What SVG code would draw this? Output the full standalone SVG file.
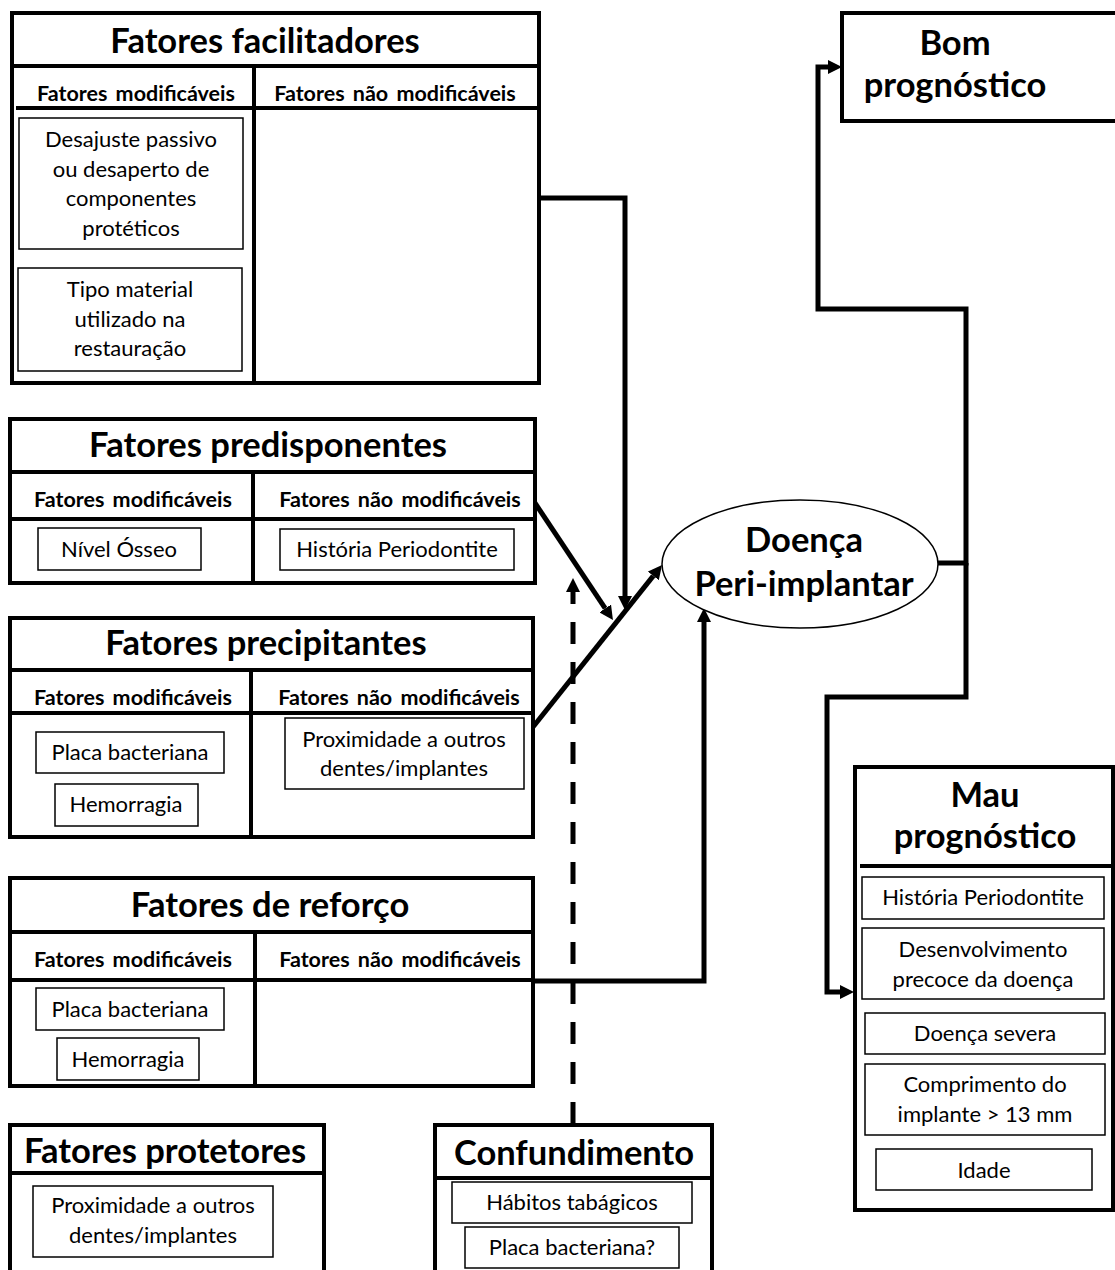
<svg xmlns="http://www.w3.org/2000/svg" width="1115" height="1270" viewBox="0 0 1115 1270">
<style>
.outer{fill:#fff;stroke:#000;stroke-width:4}
.div{stroke:#000;stroke-width:4;fill:none}
.inner{fill:#fff;stroke:#000;stroke-width:1.5}
.t{font-family:Lato,"Liberation Sans",sans-serif;font-weight:bold;font-size:34.5px;text-anchor:middle;fill:#000}
.s{font-family:Lato,"Liberation Sans",sans-serif;font-weight:bold;font-size:21.5px;word-spacing:3px;text-anchor:middle;fill:#000}
.n{font-family:Lato,"Liberation Sans",sans-serif;font-size:22px;text-anchor:middle;fill:#000}
.c{fill:none;stroke:#000;stroke-width:5}
.d{fill:none;stroke:#000;stroke-width:5;stroke-dasharray:22 18}
</style>
<defs>
<marker id="ah" viewBox="0 0 10 10" refX="0" refY="5" markerWidth="14" markerHeight="14" markerUnits="userSpaceOnUse" orient="auto"><path d="M0,0 L10,5 L0,10 z" fill="#000"/></marker>
</defs>
<rect width="1115" height="1270" fill="#fff"/>

<g id="connectors">
<path class="c" d="M539,198 H625 V596" marker-end="url(#ah)"/>
<path class="c" d="M533,500 L605.2,608.4" marker-end="url(#ah)"/>
<path class="c" d="M533,727 L653.3,575.9" marker-end="url(#ah)"/>
<path class="c" d="M532,981 H704 V622" marker-end="url(#ah)"/>
<path class="d" d="M573,1124 V592" marker-end="url(#ah)"/>
<path class="c" d="M938,563 H966 V309 H818 V67 H828" marker-end="url(#ah)"/>
<path class="c" d="M966,563 V697 H827 V992 H840" marker-end="url(#ah)"/>
<path fill="none" stroke="#000" stroke-width="2.5" stroke-dasharray="12 11" d="M224,753 H285"/>
</g>

<g id="facilitadores">
<rect class="outer" x="12" y="13" width="527" height="370"/>
<path class="div" d="M12,66 H539 M16,108 H539 M254,66 V383"/>
<text class="t" x="265" y="53">Fatores facilitadores</text>
<text class="s" x="136" y="101">Fatores modificáveis</text>
<text class="s" x="395" y="101">Fatores não modificáveis</text>
<rect class="inner" x="19" y="118" width="224" height="131"/>
<text class="n" x="131" y="147">Desajuste passivo</text>
<text class="n" x="131" y="177">ou desaperto de</text>
<text class="n" x="131" y="206">componentes</text>
<text class="n" x="131" y="236">protéticos</text>
<rect class="inner" x="18" y="268" width="224" height="103"/>
<text class="n" x="130" y="297">Tipo material</text>
<text class="n" x="130" y="327">utilizado na</text>
<text class="n" x="130" y="356">restauração</text>
</g>

<g id="predisponentes">
<rect class="outer" x="10" y="419" width="525" height="164"/>
<path class="div" d="M10,472 H535 M10,519 H535 M253,472 V583"/>
<text class="t" x="268" y="457">Fatores predisponentes</text>
<text class="s" x="133" y="507">Fatores modificáveis</text>
<text class="s" x="400" y="507">Fatores não modificáveis</text>
<rect class="inner" x="38" y="528" width="163" height="42"/>
<text class="n" x="119" y="557">Nível Ósseo</text>
<rect class="inner" x="280" y="529" width="234" height="41"/>
<text class="n" x="397" y="557">História Periodontite</text>
</g>

<g id="precipitantes">
<rect class="outer" x="10" y="618" width="523" height="219"/>
<path class="div" d="M10,670 H533 M10,713 H533 M251,670 V837"/>
<text class="t" x="266" y="655">Fatores precipitantes</text>
<text class="s" x="133" y="705">Fatores modificáveis</text>
<text class="s" x="399" y="705">Fatores não modificáveis</text>
<rect class="inner" x="36" y="732" width="188" height="41"/>
<text class="n" x="130" y="760">Placa bacteriana</text>
<rect class="inner" x="55" y="784" width="143" height="42"/>
<text class="n" x="126" y="812">Hemorragia</text>
<rect class="inner" x="285" y="718" width="239" height="71"/>
<text class="n" x="404" y="747">Proximidade a outros</text>
<text class="n" x="404" y="776">dentes/implantes</text>
</g>

<g id="reforco">
<rect class="outer" x="10" y="878" width="523" height="208"/>
<path class="div" d="M10,932 H533 M10,980 H533 M255,932 V1086"/>
<text class="t" x="270" y="917">Fatores de reforço</text>
<text class="s" x="133" y="967">Fatores modificáveis</text>
<text class="s" x="400" y="967">Fatores não modificáveis</text>
<rect class="inner" x="36" y="988" width="188" height="42"/>
<text class="n" x="130" y="1017">Placa bacteriana</text>
<rect class="inner" x="57" y="1038" width="142" height="42"/>
<text class="n" x="128" y="1067">Hemorragia</text>
</g>

<g id="protetores">
<rect class="outer" x="10" y="1125" width="314" height="160"/>
<path class="div" d="M10,1173 H324"/>
<text class="t" x="165" y="1163">Fatores protetores</text>
<rect class="inner" x="33" y="1186" width="240" height="71"/>
<text class="n" x="153" y="1213">Proximidade a outros</text>
<text class="n" x="153" y="1243">dentes/implantes</text>
</g>

<g id="confundimento">
<rect class="outer" x="435" y="1125" width="277" height="160"/>
<path class="div" d="M435,1178 H712"/>
<text class="t" x="574" y="1165">Confundimento</text>
<rect class="inner" x="452" y="1182" width="240" height="41"/>
<text class="n" x="572" y="1210">Hábitos tabágicos</text>
<rect class="inner" x="465" y="1227" width="214" height="41"/>
<text class="n" x="572" y="1255">Placa bacteriana?</text>
</g>

<g id="doenca">
<ellipse cx="800" cy="564" rx="138" ry="64" fill="#fff" stroke="#000" stroke-width="1.5"/>
<text class="t" x="804" y="552">Doença</text>
<text class="t" x="804" y="596">Peri-implantar</text>
</g>

<g id="bom">
<rect class="outer" x="842" y="13" width="290" height="108"/>
<text class="t" x="955" y="55">Bom</text>
<text class="t" x="955" y="97">prognóstico</text>
</g>

<g id="mau">
<rect class="outer" x="855" y="767" width="258" height="443"/>
<path class="div" d="M860,866 H1113"/>
<text class="t" x="985" y="807">Mau</text>
<text class="t" x="985" y="848">prognóstico</text>
<rect class="inner" x="862" y="877" width="242" height="42"/>
<text class="n" x="983" y="905">História Periodontite</text>
<rect class="inner" x="862" y="928" width="242" height="71"/>
<text class="n" x="983" y="957">Desenvolvimento</text>
<text class="n" x="983" y="987">precoce da doença</text>
<rect class="inner" x="865" y="1013" width="240" height="41"/>
<text class="n" x="985" y="1041">Doença severa</text>
<rect class="inner" x="865" y="1064" width="240" height="71"/>
<text class="n" x="985" y="1092">Comprimento do</text>
<text class="n" x="985" y="1122">implante &gt; 13 mm</text>
<rect class="inner" x="876" y="1149" width="216" height="41"/>
<text class="n" x="984" y="1178">Idade</text>
</g>
</svg>
